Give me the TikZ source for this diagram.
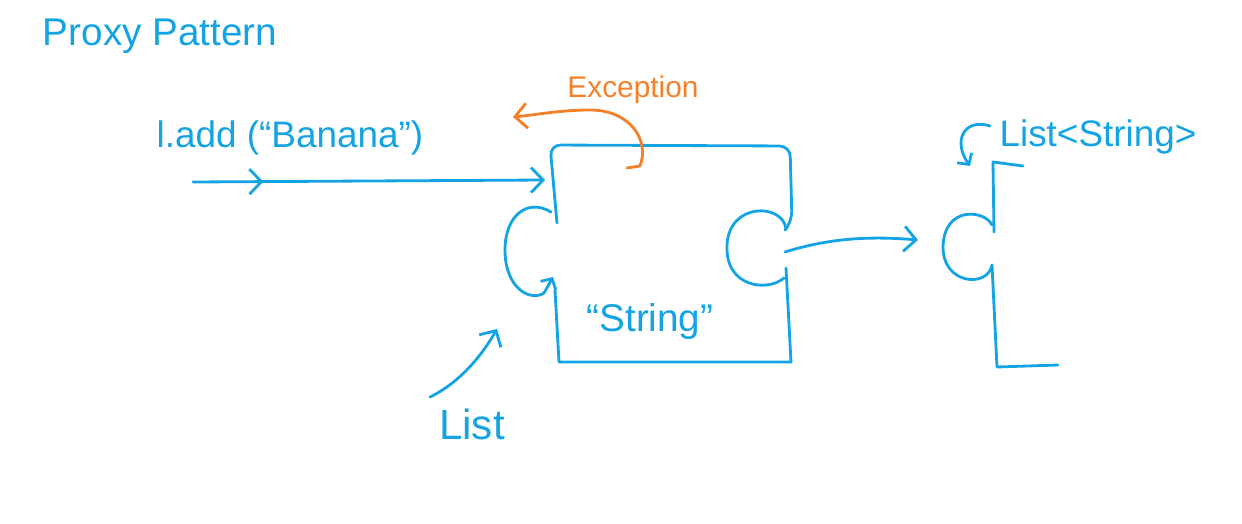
\documentclass[tikz,border=0pt]{standalone}
\usepackage{fontspec}
\setmainfont{Liberation Sans}
\usetikzlibrary{
    arrows.meta,
    positioning,
    decorations.markings
}
\definecolor{inkblue}{HTML}{14A3E3}
\definecolor{inkorange}{HTML}{F5802A}

\begin{document}
\begin{tikzpicture}[x=0.02cm, y=-0.02cm,
    pen/.style={draw=inkblue, line width=1.6pt, line cap=round, line join=round},
    orangepen/.style={pen, draw=inkorange},
    barb/.style={-{Straight Barb[length=2.4mm, width=5mm]}},
    smallbarb/.style={-{Straight Barb[length=1.6mm, width=3.5mm]}},
    inktext/.style={inner sep=0pt, text=inkblue}]

\useasboundingbox (0,0) rectangle (1242,524);

% Texts
\node[inktext, font=\fontsize{22}{24}\selectfont] (title) at (160,36) {Proxy Pattern};
\node[inktext, font=\fontsize{21}{24}\selectfont] (call) at (290,138) {l.add (``Banana'')};
\node[inktext, text=inkorange, font=\fontsize{17}{19}\selectfont] (excep) at (633,90) {Exception};
\node[inktext, font=\fontsize{22}{24}\selectfont] (payload) at (650,322) {``String''};
\node[inktext, font=\fontsize{24}{26}\selectfont] (listlbl) at (472,424) {List};
\node[inktext, font=\fontsize{21}{24}\selectfont] (proxylbl) at (1098,137) {List<String>};

% Free ends of the connectors
\coordinate (callfrom) at (193,182);
\coordinate (boxin)    at (545,180);
\coordinate (plugout)  at (785,252);
\coordinate (proxyin)  at (918,240);
\coordinate (listfrom) at (430,397);
\coordinate (listto)   at (497,329);

% Main piece (List)
\draw[pen, rounded corners=6pt] (557,223) -- (550,145) -- (790,146) -- (792,222) -- (786,229);
\draw[pen] (786,229) .. controls (783,203) and (729,202) .. (727,245)
                     .. controls (725,288) and (768,292) .. (784,278);
\draw[pen] (786,268) -- (791,362) -- (559,362) -- (555,290);
\draw[pen, smallbarb] (551,212) .. controls (528,198) and (505,215) .. (505,250)
                      .. controls (505,288) and (530,302) .. (544,293) -- (553,277);

% Proxy piece
\draw[pen] (1023,166) -- (993,162) -- (994,232);
\draw[pen] (992,225) .. controls (985,210) and (944,205) .. (943,247)
                     .. controls (943,285) and (988,288) .. (992,265);
\draw[pen] (992,265) -- (997,367) -- (1058,365);

% Connectors
\draw[pen, barb, postaction={decorate},
      decoration={markings, mark=at position 0.2 with {\arrow{Straight Barb[length=2.4mm, width=5mm]}}}]
      (callfrom) -- (boxin);
\draw[pen, barb] (plugout) .. controls (830,238) and (870,236) .. (proxyin);
\draw[pen, barb] (listfrom) .. controls (455,385) and (478,362) .. (listto);
\draw[pen, smallbarb] (990,126) .. controls (965,118) and (952,140) .. (970,166);
\draw[orangepen, barb] (627,168) -- (640,166) .. controls (650,140) and (630,110) .. (590,110)
                       .. controls (560,110) and (535,115) .. (513,117);

\end{tikzpicture}
\end{document}
